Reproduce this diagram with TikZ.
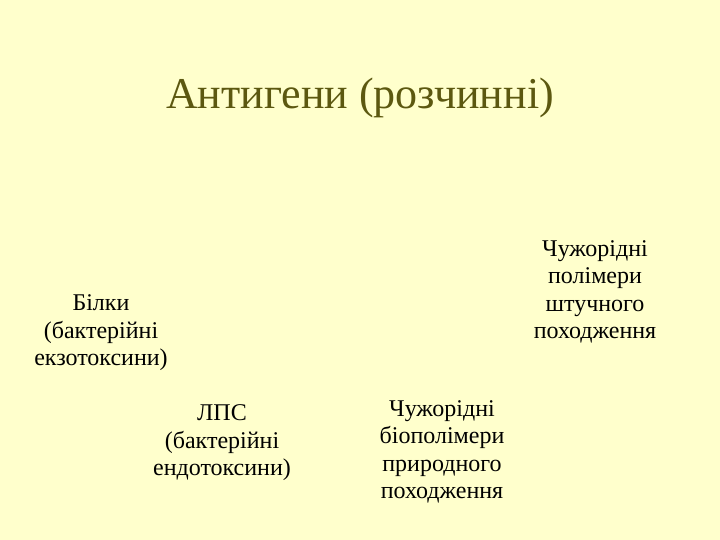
\documentclass[tikz,border=0pt]{standalone}
\usepackage{fontspec}
\setmainfont{Liberation Serif}
\definecolor{slidebg}{RGB}{255,255,204}
\definecolor{titleolive}{RGB}{92,88,16}

\begin{document}
\begin{tikzpicture}[x=1pt, y=-1pt,
    heading/.style={text=titleolive, font=\fontsize{44}{50}\selectfont},
    item/.style={align=center, text=black, inner sep=0pt,
        font=\fontsize{24}{27.5}\selectfont}]
    \fill[slidebg] (0, 0) rectangle (720, 540);
    \useasboundingbox (0, 0) rectangle (720, 540);

    \node[heading] (title) at (360, 98) {Антигени (розчинні)};

    \node[item] (proteins) at (101, 333) {Білки\\(бактерійні\\екзотоксини)};
    \node[item] (lps) at (222, 443) {ЛПС\\(бактерійні\\ендотоксини)};
    \node[item] (natural) at (442, 452) {Чужорідні\\біополімери\\природного\\походження};
    \node[item] (synthetic) at (595, 292) {Чужорідні\\полімери\\штучного\\походження};
\end{tikzpicture}
\end{document}
